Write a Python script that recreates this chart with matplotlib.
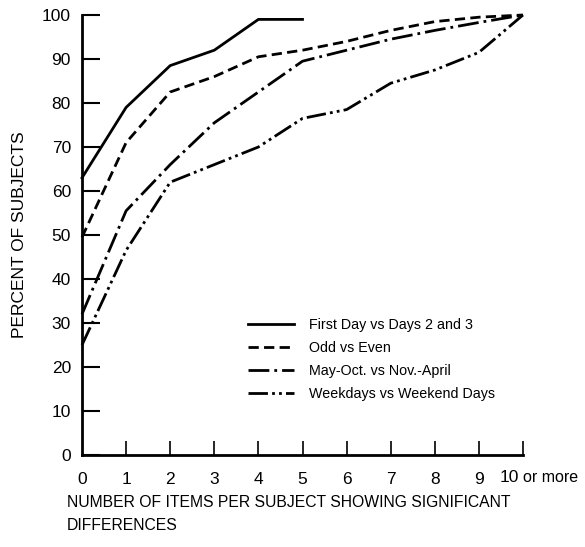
import matplotlib
matplotlib.use("Agg")
import matplotlib.pyplot as plt
from matplotlib.transforms import ScaledTranslation

plt.rcParams['font.family'] = ['Liberation Sans', 'DejaVu Sans']

x_first = [0, 1, 2, 3, 4, 5]
first_day = [63, 79, 88.5, 92, 99, 99]

x_all = [0, 1, 2, 3, 4, 5, 6, 7, 8, 9, 10]
odd_even = [49.5, 71, 82.5, 86, 90.5, 92, 94, 96.5, 98.5, 99.5, 100]
may_oct = [32, 55.5, 66, 75.5, 82.5, 89.5, 92, 94.5, 96.5, 98.3, 100]
weekdays = [25, 46.5, 62, 66, 70, 76.5, 78.5, 84.5, 87.5, 91.5, 100]

labels = ["First Day vs Days 2 and 3", "Odd vs Even",
          "May-Oct. vs Nov.-April", "Weekdays vs Weekend Days"]
xticks = [0, 1, 2, 3, 4, 5, 6, 7, 8, 9, 10]
xticklabels = ["0", "1", "2", "3", "4", "5", "6", "7", "8", "9", "10"]
yticks = [0, 10, 20, 30, 40, 50, 60, 70, 80, 90, 100]

fig = plt.figure(figsize=(5.85, 5.47), dpi=100)
ax = fig.add_axes([82/585, 92/547, 441/585, 440/547])

lw = 2.0
ax.plot(x_first, first_day, color='black', lw=lw, linestyle='-', label=labels[0], clip_on=False)
ax.plot(x_all, odd_even, color='black', lw=lw, linestyle=(0, (3.7, 1.9)), label=labels[1], clip_on=False)
ax.plot(x_all, may_oct, color='black', lw=lw, linestyle=(0, (7.5, 1.8, 1.0, 1.8)), label=labels[2], clip_on=False)
ax.plot(x_all, weekdays, color='black', lw=lw, linestyle=(0, (7.0, 1.5, 1.0, 1.5, 1.0, 1.5)), label=labels[3], clip_on=False)

ax.set_xlim(0, 10)
ax.set_ylim(0, 100)
ax.spines['top'].set_visible(False)
ax.spines['right'].set_visible(False)
ax.spines['left'].set_linewidth(2)
ax.spines['bottom'].set_linewidth(2)

ax.set_yticks(yticks)
ax.set_yticklabels([str(v) for v in yticks])
ax.set_xticks(xticks)
# last label ("10 or more") drawn separately below
ax.set_xticklabels(xticklabels[:-1] + [""])
ax.tick_params(axis='y', direction='in', length=13, width=1.5, pad=8, labelsize=12.5)
ax.tick_params(axis='x', direction='in', length=10, width=1.2, pad=12, labelsize=12.5)
ax.xaxis.get_major_ticks()[0].tick1line.set_visible(False)

ax.text(xticks[-1], 0, xticklabels[-1],
        transform=ax.transData + ScaledTranslation(-4/100, -23/100, fig.dpi_scale_trans),
        ha='right', va='center', fontsize=12.5, clip_on=False)
ax.text(xticks[-1], 0, "or more",
        transform=ax.transData + ScaledTranslation(0/100, -23/100, fig.dpi_scale_trans),
        ha='left', va='center', fontsize=11.5, clip_on=False)

ax.set_ylabel("PERCENT OF SUBJECTS", fontsize=12.5, labelpad=11)
fig.text(67/585, 1 - 514/547, "NUMBER OF ITEMS PER SUBJECT SHOWING SIGNIFICANT\nDIFFERENCES",
         ha='left', va='center', fontsize=11.3, linespacing=1.7)

leg = ax.legend(loc='upper left', bbox_to_anchor=(166/441, 1 - (318-15)/440), frameon=False,
                fontsize=10.3, handlelength=3.2, handletextpad=1.05, labelspacing=0.64,
                borderpad=0, borderaxespad=0)

fig.savefig("out.png", dpi=100)
